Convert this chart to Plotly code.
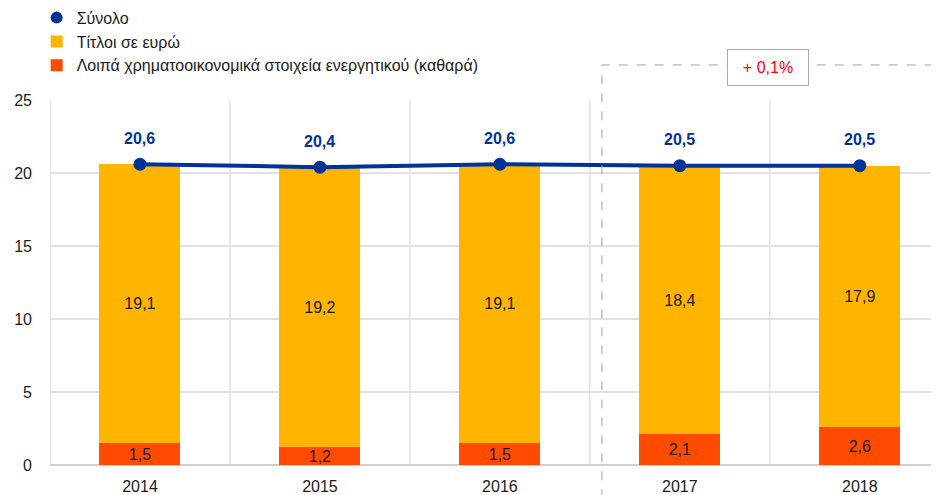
import plotly.graph_objects as go

years = ["2014", "2015", "2016", "2017", "2018"]
total = [20.6, 20.4, 20.6, 20.5, 20.5]
euro_securities = [19.1, 19.2, 19.1, 18.4, 17.9]
other_assets = [1.5, 1.2, 1.5, 2.1, 2.6]
y_ticks = [0, 5, 10, 15, 20, 25]
change_label = "+ 0,1%"

names = ["Σύνολο", "Τίτλοι σε ευρώ", "Λοιπά χρηματοοικονομικά στοιχεία ενεργητικού (καθαρά)"]

FONT = "Arial, Liberation Sans, sans-serif"
BLUE = "#003299"
YELLOW = "#FFB400"
RED = "#FF4B00"
TXT = "#1a1a1a"

def fmt(v):
    return f"{v:.1f}".replace(".", ",")

xpos = list(range(len(years)))

fig = go.Figure()

fig.add_trace(go.Bar(
    x=xpos, y=other_assets, name=names[2], marker=dict(color=RED, line=dict(width=0)),
    width=0.45, text=[fmt(v) for v in other_assets], textposition="inside",
    insidetextanchor="middle", textangle=0,
    textfont=dict(color=TXT, size=16, family=FONT), legendrank=3,
))
fig.add_trace(go.Bar(
    x=xpos, y=euro_securities, name=names[1], marker=dict(color=YELLOW, line=dict(width=0)),
    width=0.45, text=[fmt(v) for v in euro_securities], textposition="inside",
    insidetextanchor="middle", textangle=0,
    textfont=dict(color=TXT, size=16, family=FONT), legendrank=2,
))
fig.add_trace(go.Scatter(
    x=xpos, y=total, mode="lines+markers", showlegend=False,
    line=dict(color=BLUE, width=4), marker=dict(color=BLUE, size=13),
))
fig.add_trace(go.Scatter(
    x=[None], y=[None], mode="markers", name=names[0],
    marker=dict(color=BLUE, size=15, symbol="circle"), legendrank=1,
))

for xv, tv in zip(xpos, total):
    fig.add_annotation(x=xv, y=tv, xref="x", yref="y", text=fmt(tv), showarrow=False,
                       yshift=26, font=dict(color=BLUE, size=16, family=FONT, weight="bold"))

# dashed box around 2017-2018
fig.add_shape(type="rect", xref="x", yref="paper", x0=2.567, x1=4.406, y0=-0.12, y1=1.096,
              line=dict(color="#a0a0a0", width=1, dash="dash"), fillcolor="rgba(0,0,0,0)", layer="above")

# vertical category separators
for xv in [-0.5, 0.5, 1.5, 2.5, 3.5]:
    fig.add_shape(type="line", xref="x", yref="y", x0=xv, x1=xv, y0=0, y1=25,
                  line=dict(color="#e1e1e1", width=1.5), layer="below")

fig.add_annotation(
    x=3.49, y=1.09, xref="x", yref="paper", text=change_label, showarrow=False,
    xanchor="center", yanchor="middle",
    font=dict(color="#FF0000", size=16, family=FONT),
    bgcolor="white", bordercolor="#aaaaaa", borderwidth=1, width=78, height=33,
    borderpad=1,
)

# page body has an 8px default margin: figure origin sits at (8, 8) in the page
fig.update_layout(
    width=931, height=487,
    margin=dict(l=42, r=0, t=92, b=30, autoexpand=False),
    paper_bgcolor="white", plot_bgcolor="white",
    barmode="stack",
    font=dict(family=FONT, size=16, color=TXT),
    uniformtext=dict(minsize=16, mode="show"),
    legend=dict(x=-0.015, y=1.272, xanchor="left", yanchor="top", traceorder="grouped",
                font=dict(size=16, color=TXT), bgcolor="rgba(0,0,0,0)",
                itemsizing="constant", tracegroupgap=1),
    showlegend=True,
)
fig.update_xaxes(
    range=[-0.5, 4.44], tickvals=xpos, ticktext=years, showgrid=False,
    zeroline=False, showline=False, ticks="", ticklabelstandoff=10,
    tickfont=dict(size=16, color=TXT),
)
fig.update_yaxes(
    range=[0, 25], tickvals=y_ticks, showgrid=True, gridcolor="#e1e1e1", gridwidth=1.5,
    zeroline=True, zerolinecolor="#d0d0d0", zerolinewidth=1.5, showline=False,
    ticks="", ticklabelstandoff=17, tickfont=dict(size=16, color=TXT),
)

fig.write_html("out.html")
